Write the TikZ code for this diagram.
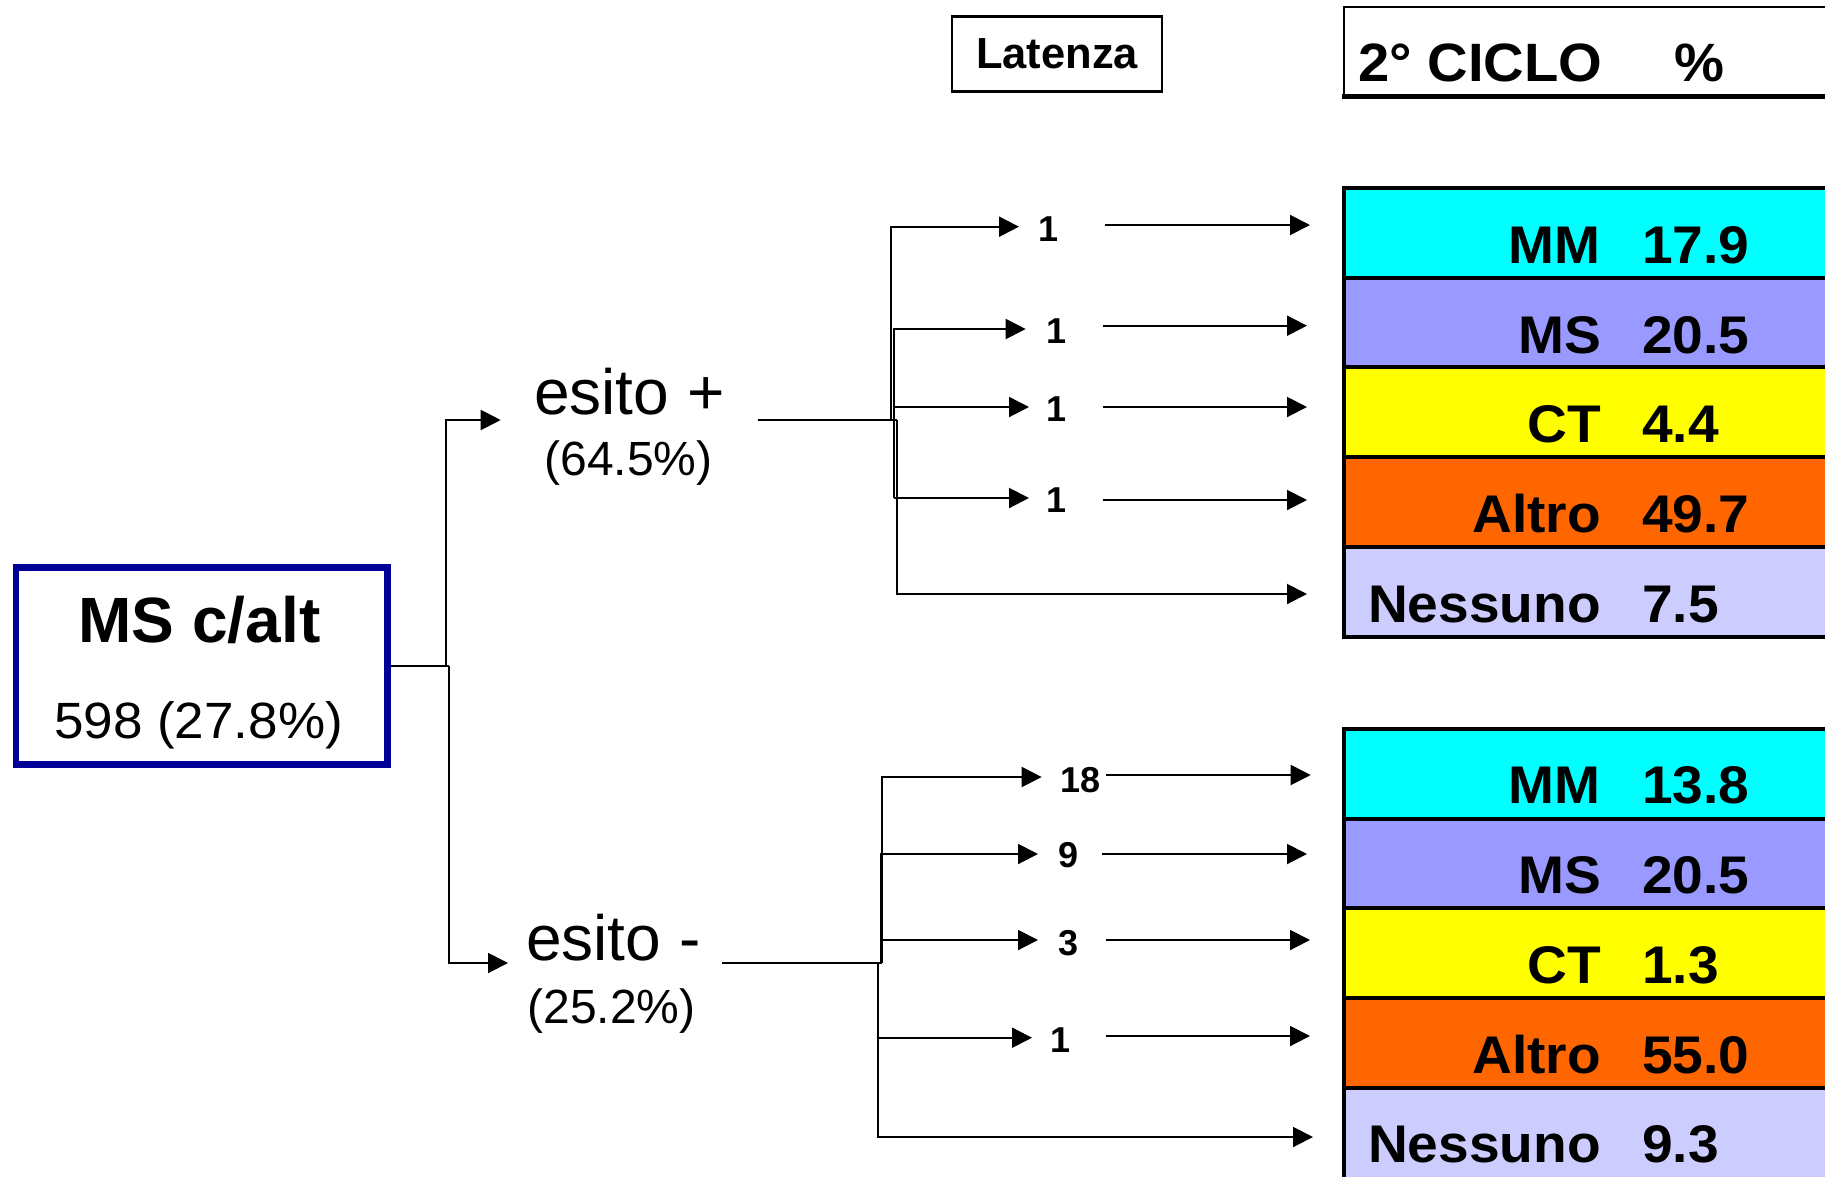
\documentclass[tikz,border=0pt]{standalone}
\usepackage{fontspec}
\setmainfont{Liberation Sans}
\newfontfamily\widefont[FakeStretch=1.04]{Liberation Sans}
\usetikzlibrary{arrows.meta}
\definecolor{navy}{RGB}{0,0,153}
\definecolor{cMM}{RGB}{0,255,255}
\definecolor{cMS}{RGB}{153,153,255}
\definecolor{cCT}{RGB}{255,255,0}
\definecolor{cAL}{RGB}{255,102,0}
\definecolor{cNE}{RGB}{204,204,255}
\begin{document}
\begin{tikzpicture}[x=1pt,y=-1pt,
  conn/.style={line width=2pt, draw=black},
  arr/.style={conn, -{Triangle[length=20pt,width=20pt]}},
  lbl/.style={inner sep=0pt, font=\fontsize{36}{40}\selectfont\bfseries, anchor=base},
  rowlbl/.style={inner sep=0pt, font=\widefont\fontsize{53}{60}\selectfont\bfseries, anchor=base east},
  rowval/.style={inner sep=0pt, font=\widefont\fontsize{53}{60}\selectfont\bfseries, anchor=base west},
  hdrtxt/.style={inner sep=0pt, font=\widefont\fontsize{54}{60}\selectfont\bfseries, anchor=base west},
  rowbox/.style={draw=black, line width=4pt},
  big/.style={inner sep=0pt, font=\fontsize{64}{70}\selectfont},
  mid/.style={inner sep=0pt, font=\fontsize{48}{54}\selectfont, anchor=base},
]
\fill[white] (0,0) rectangle (1825,1176);
\useasboundingbox (0,0) rectangle (1825,1176);

% header boxes
\node[draw=black, line width=2.5pt, minimum width=209.7pt, minimum height=75pt, inner sep=0pt,
      font=\fontsize{43.5}{48}\selectfont\bfseries] (lat) at (1057,54) {Latenza};
\draw[line width=2.3pt] (1840,7.3) -- (1344,7.3) -- (1344,96.7);
\draw[line width=5pt] (1341.8,96.7) -- (1840,96.7);
\node[hdrtxt] (hdr) at (1358,81.7) {2° CICLO};
\node[hdrtxt] (pct) at (1674,81.7) {\%};

% upper table
\foreach [count=\i] \c/\t/\lab/\val in {cMM/188/MM/17.9, cMS/277.5/MS/20.5, cCT/367.3/CT/4.4, cAL/457.1/Altro/49.7, cNE/546.9/Nessuno/7.5} {
  \filldraw[fill=\c, rowbox] (1344,\t) rectangle (1845,\t+89.8);
  \node[rowlbl] (ul\i) at (1601,\t+75.5) {\lab};
  \node[rowval] (uv\i) at (1642,\t+75.5) {\val};
}
% lower table
\foreach [count=\i] \c/\t/\lab/\val/\h in {cMM/728.7/MM/13.8/89.8, cMS/818.5/MS/20.5/89.8, cCT/908.3/CT/1.3/89.8, cAL/998.1/Altro/55.0/89.8, cNE/1087.9/Nessuno/9.3/100} {
  \filldraw[fill=\c, rowbox] (1344,\t) rectangle (1845,\t+\h);
  \node[rowlbl] (ll\i) at (1601,\t+75) {\lab};
  \node[rowval] (lv\i) at (1642,\t+75) {\val};
}

% root box
\node[draw=navy, line width=6.6pt, minimum width=371.4pt, minimum height=197.4pt, inner sep=0pt] (root) at (201.7,666) {};
\node[inner sep=0pt, font=\fontsize{64}{70}\selectfont\bfseries, anchor=base] (rootT) at (199.5,642.7) {MS c/alt};
\node[inner sep=0pt, font=\widefont\fontsize{51}{56}\selectfont, anchor=base] (rootN) at (198.5,738) {598 (27.8\%)};

% esito nodes
\node[big, anchor=base west] (pos) at (534,414) {esito +};
\node[mid] (posP) at (628.4,475) {(64.5\%)};
\node[big, anchor=base west] (neg) at (526,960) {esito -};
\node[mid] (negP) at (611.5,1023) {(25.2\%)};

% root connectors
\coordinate (jA) at (445.7,666);
\coordinate (jB) at (449,666);
\coordinate (tipP) at (500.7,420);
\coordinate (tipN) at (508,963);
\draw[conn] (root.east) -- (jB);
\draw[arr] (jA) |- (tipP);
\draw[arr] (jB) |- (tipN);

% upper branch
\coordinate (pS) at (758,420);
\coordinate (pJ) at (897,420);
\coordinate (pV1) at (891,420);
\coordinate (pT1) at (1019,226.7);
\coordinate (pV2) at (894,498);
\coordinate (pT2) at (1025.7,329);
\coordinate (pV3) at (894,407);
\coordinate (pT3) at (1029,407);
\coordinate (pT4) at (1029,498);
\coordinate (pT5) at (1307,594);
\draw[conn] (pS) -- (pJ);
\draw[arr] (pV1) |- (pT1);
\draw[arr] (pV2) |- (pT2);
\draw[arr] (pV3) -- (pT3);
\draw[arr] (pV2) -- (pT4);
\draw[arr] (pJ) |- (pT5);
\node[lbl] (pL1) at (1048,241) {1};
\node[lbl] (pL2) at (1056,343.3) {1};
\node[lbl] (pL3) at (1056,421.7) {1};
\node[lbl] (pL4) at (1056,512.7) {1};
\coordinate (pR1s) at (1105,225);   \coordinate (pR1e) at (1310,225);
\coordinate (pR2s) at (1103,325.7); \coordinate (pR2e) at (1307,325.7);
\coordinate (pR3s) at (1103,407);   \coordinate (pR3e) at (1307,407);
\coordinate (pR4s) at (1103,500);   \coordinate (pR4e) at (1307,500);
\draw[arr] (pR1s) -- (pR1e);
\draw[arr] (pR2s) -- (pR2e);
\draw[arr] (pR3s) -- (pR3e);
\draw[arr] (pR4s) -- (pR4e);

% lower branch
\coordinate (nS) at (721.7,963);
\coordinate (nJ) at (882,963);
\coordinate (nT1) at (1041.7,777);
\coordinate (nV2) at (881,963);
\coordinate (nT2) at (1038,854);
\coordinate (nV3) at (881,940);
\coordinate (nT3) at (1038,940);
\coordinate (nV4) at (878,963);
\coordinate (nV4b) at (878,1037.7);
\coordinate (nT4) at (1032,1037.7);
\coordinate (nT5) at (1313,1137);
\draw[conn] (nS) -- (nJ);
\draw[arr] (nJ) |- (nT1);
\draw[arr] (nV2) |- (nT2);
\draw[arr] (nV3) -- (nT3);
\draw[arr] (nV4) |- (nT5);
\draw[arr] (nV4b) -- (nT4);
\node[lbl] (nL1) at (1080.7,792.3) {18};
\node[lbl] (nL2) at (1068,867) {9};
\node[lbl] (nL3) at (1068,955) {3};
\node[lbl] (nL4) at (1060.7,1052) {1};
\coordinate (nR1s) at (1106,775);   \coordinate (nR1e) at (1310.7,775);
\coordinate (nR2s) at (1101.7,854); \coordinate (nR2e) at (1307,854);
\coordinate (nR3s) at (1106,940);   \coordinate (nR3e) at (1310,940);
\coordinate (nR4s) at (1106,1036);  \coordinate (nR4e) at (1310,1036);
\draw[arr] (nR1s) -- (nR1e);
\draw[arr] (nR2s) -- (nR2e);
\draw[arr] (nR3s) -- (nR3e);
\draw[arr] (nR4s) -- (nR4e);
\end{tikzpicture}
\end{document}
